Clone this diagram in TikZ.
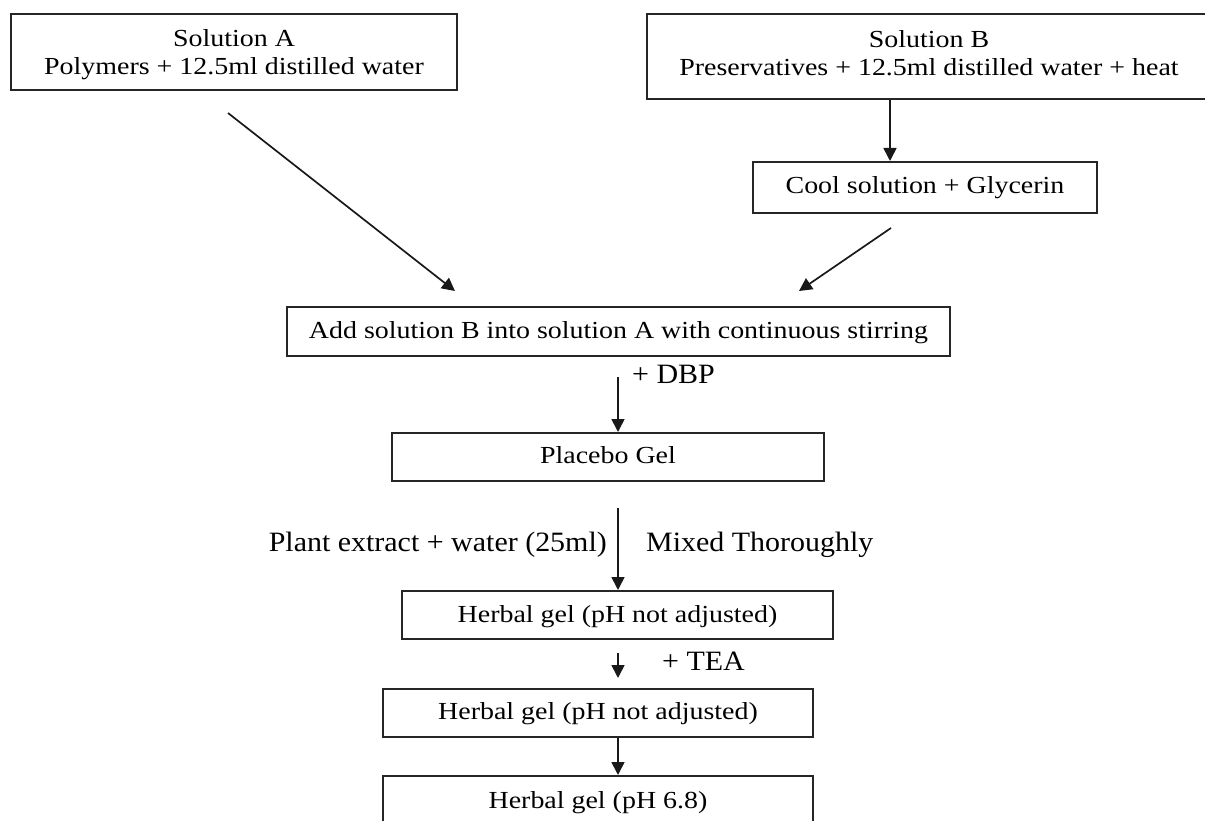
\documentclass[tikz,border=0pt]{standalone}
\usepackage{fontspec}
\usetikzlibrary{arrows.meta}
\newfontfamily\boxfont[FakeStretch=1.14]{Liberation Serif}
\newfontfamily\lblfont[FakeStretch=1.07]{Liberation Serif}
\tikzset{
  box/.style={draw=black!85, line width=2pt, inner sep=0pt, align=center,
    font=\boxfont\fontsize{24.5}{27.5}\selectfont},
  onebox/.style={box, text height=17pt, text depth=4pt},
  lbl/.style={inner sep=0pt, font=\lblfont\fontsize{28}{30}\selectfont},
  arr/.style={draw=black!90, line width=1.7pt, -{Triangle[length=13pt,width=13pt]}},
}
\begin{document}
\begin{tikzpicture}[x=1pt,y=-1pt]
\clip (0,0) rectangle (1205,821);
\fill[white] (0,0) rectangle (1205,821);
% boxes
\node[box, minimum width=446pt, minimum height=76pt, text depth=0pt] (A) at (234,52)
  {Solution A\\Polymers + 12.5ml distilled water};
\node[box, minimum width=560pt, minimum height=85pt, text depth=7pt] (B) at (927,56.5)
  {\hspace*{4pt}Solution B\\\hspace*{4pt}Preservatives + 12.5ml distilled water + heat};
\node[onebox, minimum width=344pt, minimum height=51pt] (cool) at (925,187.5)
  {Cool solution + Glycerin};
\node[onebox, minimum width=663pt, minimum height=49pt] (add) at (618.5,331.5)
  {Add solution B into solution A with continuous stirring};
\node[onebox, minimum width=432pt, minimum height=48pt] (placebo) at (608,457)
  {Placebo Gel};
\node[onebox, minimum width=431pt, minimum height=48pt, text depth=2pt] (h1) at (617.5,615)
  {Herbal gel (pH not adjusted)};
\node[onebox, minimum width=430pt, minimum height=48pt] (h2) at (598,713)
  {Herbal gel (pH not adjusted)};
\node[onebox, minimum width=430pt, minimum height=50pt, text depth=2pt] (h3) at (598,801)
  {Herbal gel (pH 6.8)};
% connector end points
\coordinate (a1) at (228,113);
\coordinate (a2) at (455,291);
\coordinate (b1) at (891,228);
\coordinate (b2) at (799,291);
\coordinate (d1) at (618,377);
\coordinate (p1) at (618,508);
\coordinate (t1) at (618,653);
\coordinate (t2) at (618,678);
% connectors
\draw[arr] (a1) -- (a2);
\draw[arr] (B.south -| 890,0) -- (cool.north -| 890,0);
\draw[arr] (b1) -- (b2);
\draw[arr] (d1) -- (placebo.north -| d1);
\draw[arr] (p1) -- (h1.north -| p1);
\draw[arr] (t1) -- (t2);
\draw[arr] (h2.south -| t1) -- (h3.north -| t1);
% labels
\node[lbl, anchor=base west] (ldbp) at (632,383) {+ DBP};
\node[lbl, anchor=base east] (lplant) at (607,551) {Plant extract + water (25ml)};
\node[lbl, anchor=base west] (lmix) at (646,551) {Mixed Thoroughly};
\node[lbl, anchor=base west] (ltea) at (662,670) {+ TEA};
\end{tikzpicture}
\end{document}
